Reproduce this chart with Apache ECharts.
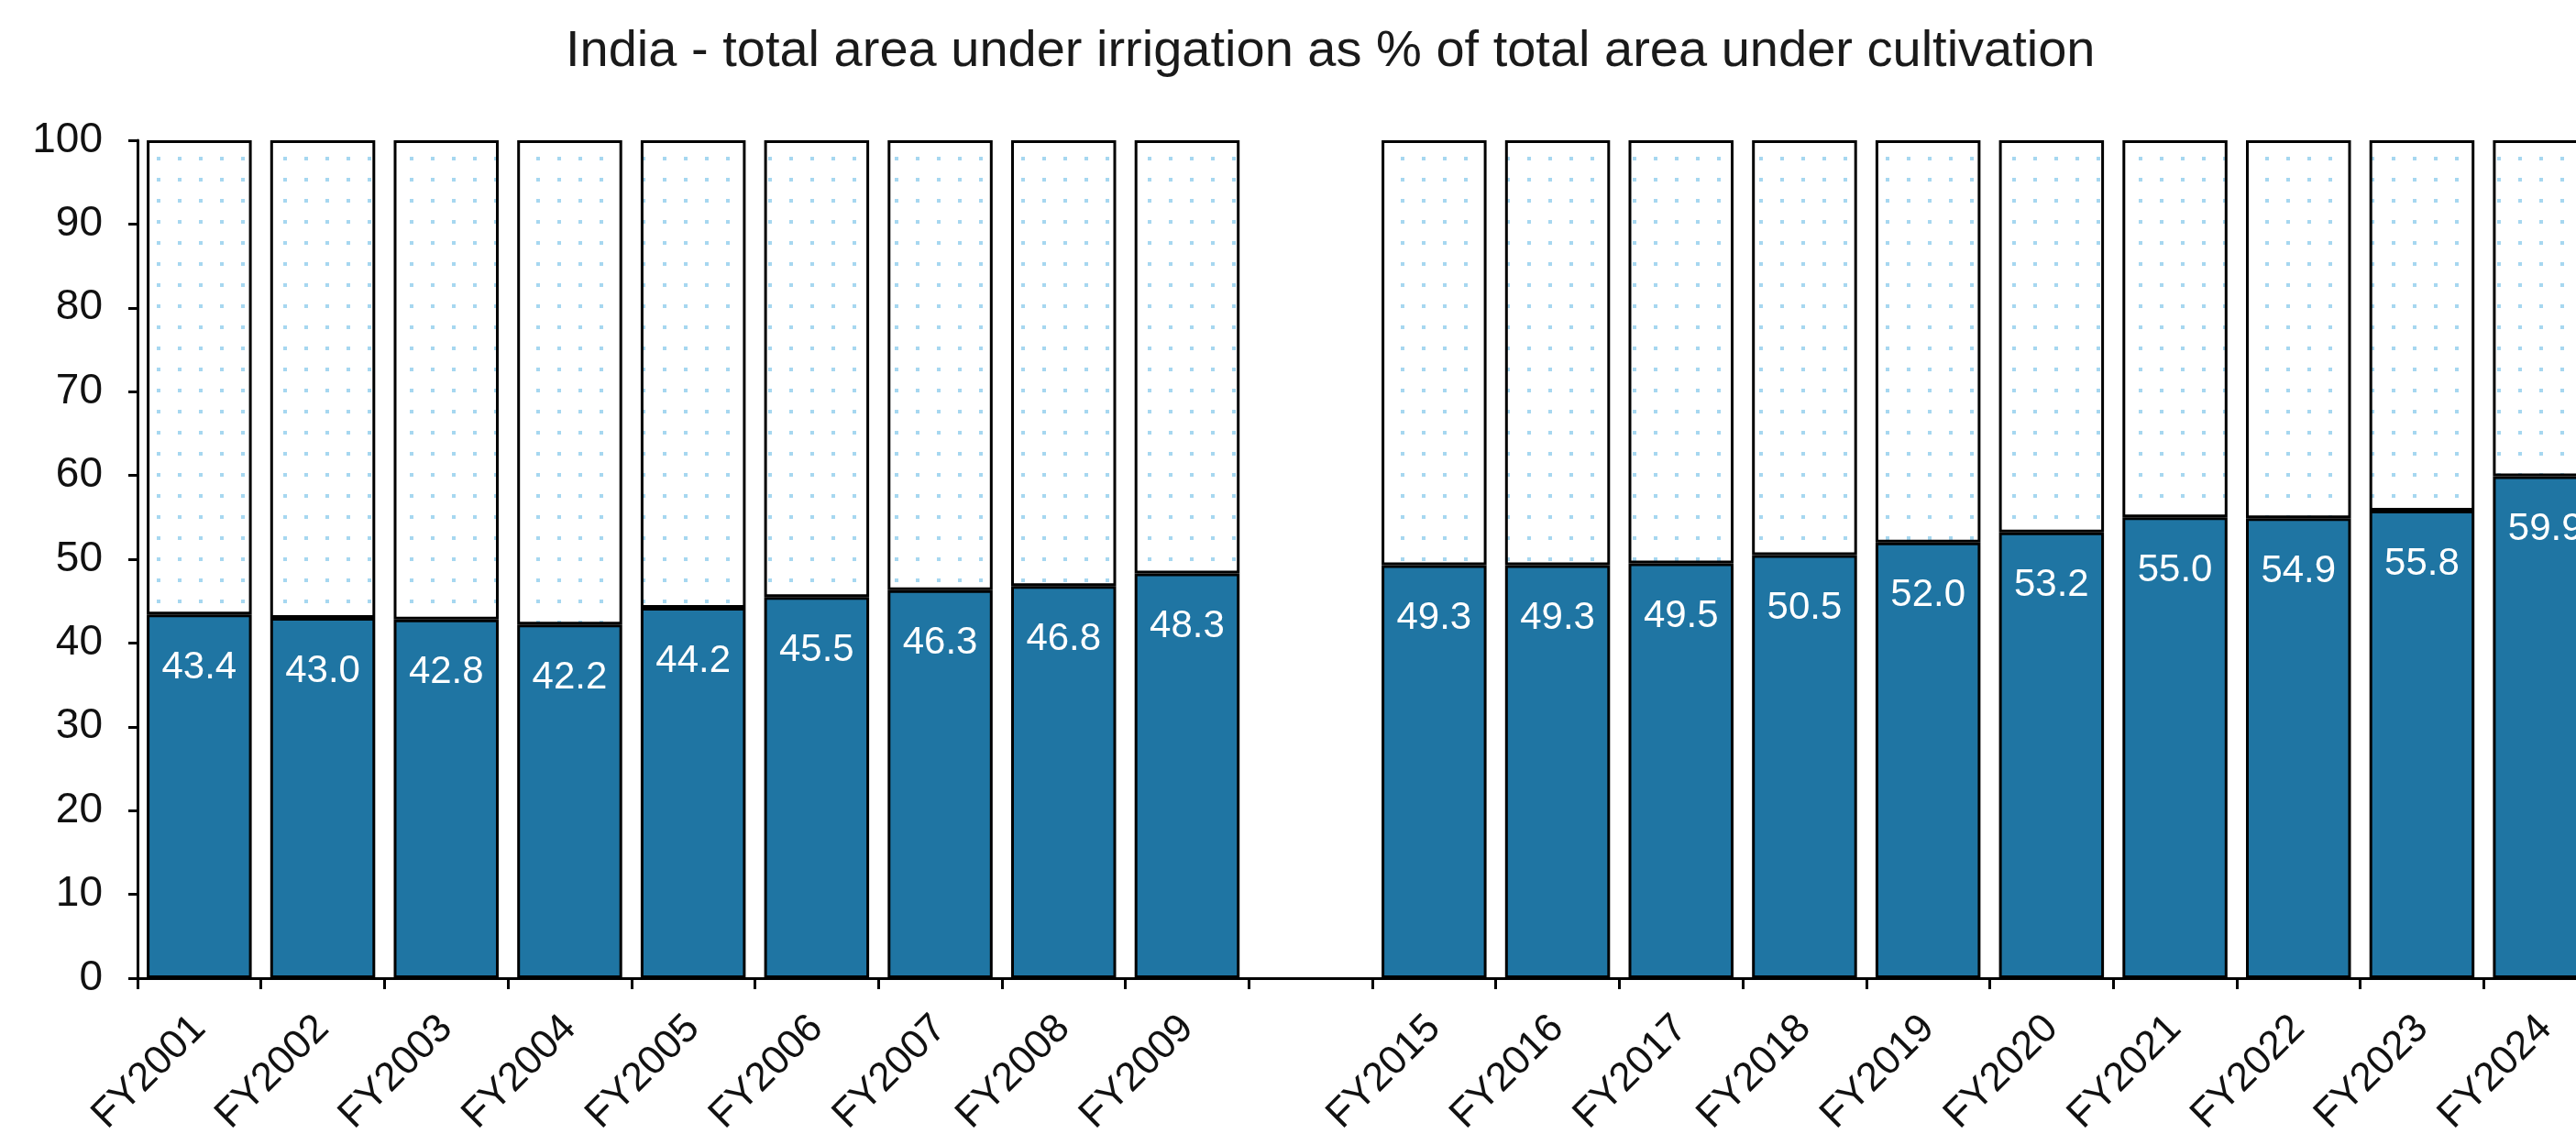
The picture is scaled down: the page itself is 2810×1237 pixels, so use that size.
<!DOCTYPE html>
<html><head><meta charset="utf-8">
<script src="https://cdn.jsdelivr.net/npm/echarts@6/dist/echarts.min.js"></script>
<style>html,body{margin:0;padding:0;background:#fff}#c{width:2810px;height:1237px}</style>
</head><body><div id="c"></div>
<script>
const titleText = 'India - total area under irrigation as % of total area under cultivation';
const categories = ['FY2001','FY2002','FY2003','FY2004','FY2005','FY2006','FY2007','FY2008','FY2009','',
  'FY2015','FY2016','FY2017','FY2018','FY2019','FY2020','FY2021','FY2022','FY2023','FY2024'];
const irrigated = [43.4,43.0,42.8,42.2,44.2,45.5,46.3,46.8,48.3,null,
  49.3,49.3,49.5,50.5,52.0,53.2,55.0,54.9,55.8,59.9];
const yMin = 0, yMax = 100, yStep = 10;
const remainder = irrigated.map(v => v == null ? null : +(yMax - v).toFixed(1));

const pc = document.createElement('canvas');
pc.width = 23; pc.height = 23;
const pctx = pc.getContext('2d');
pctx.fillStyle = '#ffffff'; pctx.fillRect(0, 0, 23, 23);
pctx.fillStyle = '#a6d7f0'; pctx.fillRect(10, 10, 4, 4);

const FONT = '"Liberation Sans", Arial, sans-serif';
const chart = echarts.init(document.getElementById('c'), null, {renderer: 'canvas'});
chart.setOption({
  animation: false,
  backgroundColor: '#ffffff',
  title: {
    text: titleText, left: 612, top: 24,
    textStyle: {fontFamily: FONT, fontSize: 56, fontWeight: 'normal', color: '#1a1a1a'}
  },
  grid: {left: 150, top: 153, bottom: 170, width: 2694, outerBoundsMode: 'none', containLabel: false},
  xAxis: {
    type: 'category', data: categories,
    axisLine: {lineStyle: {color: '#000', width: 3}},
    axisTick: {show: true, length: 12, lineStyle: {color: '#000', width: 3}},
    axisLabel: {rotate: 45, margin: 48, fontFamily: FONT, fontSize: 44, color: '#111', interval: 0}
  },
  yAxis: {
    type: 'value', min: yMin, max: yMax, interval: yStep,
    splitLine: {show: false},
    axisLine: {show: true, lineStyle: {color: '#000', width: 3}},
    axisTick: {show: true, length: 10, lineStyle: {color: '#000', width: 3}},
    axisLabel: {margin: 38, fontFamily: FONT, fontSize: 46, color: '#111'}
  },
  series: [
    {
      name: 'Irrigated', type: 'bar', stack: 'a', data: irrigated,
      barCategoryGap: '15%',
      itemStyle: {color: '#1f75a3', borderColor: '#000', borderWidth: 3},
      label: {
        show: true, position: 'insideTop', distance: 37, color: '#fff',
        fontFamily: FONT, fontSize: 42,
        formatter: p => p.value.toFixed(1)
      }
    },
    {
      name: 'Rest', type: 'bar', stack: 'a', data: remainder,
      itemStyle: {color: {image: pc, repeat: 'repeat'}, borderColor: '#000', borderWidth: 3}
    }
  ]
});
</script></body></html>
